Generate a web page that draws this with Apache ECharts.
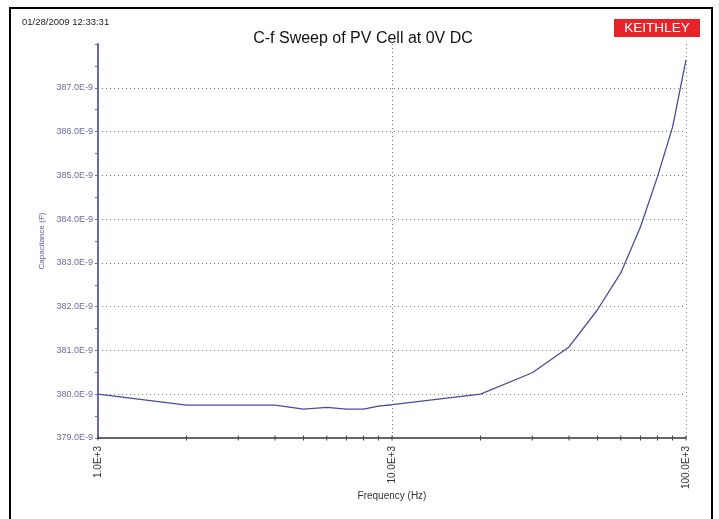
<!DOCTYPE html>
<html>
<head>
<meta charset="utf-8">
<script src="https://cdn.jsdelivr.net/npm/echarts@6/dist/echarts.min.js"></script>
<style>
html, body { margin: 0; padding: 0; background: #fff; }
#main { width: 719px; height: 519px; }
</style>
</head>
<body>
<div id="main"></div>
<script>
// C-f sweep data
var freqHz = [1000, 2000, 3000, 4000, 5000, 6000, 7000, 8000, 9000, 10000,
    20000, 30000, 40000, 50000, 60000, 70000, 80000, 90000, 100000];
var capNF = [380.00, 379.75, 379.75, 379.75, 379.66, 379.70, 379.66, 379.66, 379.73, 379.76,
    380.00, 380.49, 381.08, 381.93, 382.77, 383.82, 384.97, 386.10, 387.64];
var tickFreq = [1000, 2000, 3000, 4000, 5000, 6000, 7000, 8000, 9000, 10000,
    20000, 30000, 40000, 50000, 60000, 70000, 80000, 90000, 100000];

var FONT = '"Liberation Sans", Arial, sans-serif';

var chart = echarts.init(document.getElementById('main'));
var option = {
    animation: false,
    backgroundColor: '#fff',
    title: {
        text: 'C-f Sweep of PV Cell at 0V DC',
        left: 358,
        top: 26,
        textAlign: 'center',
        textStyle: { fontFamily: FONT, fontSize: 16, fontWeight: 'normal', color: '#111' }
    },
    graphic: [
        {
            type: 'rect', silent: true,
            shape: { x: 10, y: 8, width: 702, height: 560 },
            style: { fill: null, stroke: '#000', lineWidth: 2 }
        },
        {
            type: 'text', left: 22, top: 17,
            style: { text: '01/28/2009 12:33:31', font: '9.5px ' + FONT, fill: '#222' }
        },
        {
            type: 'rect',
            shape: { x: 614, y: 19, width: 86, height: 18 },
            style: { fill: '#e8232a' }
        },
        {
            type: 'text', x: 657, y: 28.5,
            style: { text: 'KEITHLEY', font: '13.5px ' + FONT, fill: '#fff',
                align: 'center', verticalAlign: 'middle' }
        },
        {
            // x axis title
            type: 'text', x: 392, y: 496,
            style: { text: 'Frequency (Hz)', font: '10px ' + FONT, fill: '#333',
                align: 'center', verticalAlign: 'middle' }
        }
    ],
    grid: { left: 98, right: 33, top: 44, bottom: 81 },
    xAxis: {
        type: 'log',
        logBase: 10,
        min: 1000,
        max: 100000,
        axisLine: { lineStyle: { color: '#333', width: 1.5 } },
        axisTick: { show: false },
        minorTick: { show: false },
        axisLabel: {
            rotate: 90,
            fontFamily: FONT, fontSize: 10, color: '#333', margin: 8,
            formatter: function (v) { return (v / 1000).toFixed(1) + 'E+3'; }
        },
        splitLine: { show: true, lineStyle: { color: '#777', type: [1, 3], width: 1 } }
    },
    yAxis: {
        type: 'value',
        min: 379,
        max: 388,
        interval: 1,
        name: 'Capacitance (F)',
        nameLocation: 'middle',
        nameRotate: 90,
        nameGap: 50,
        nameTextStyle: { fontFamily: FONT, fontSize: 8, color: '#5a5aa0' },
        axisLine: { show: true, lineStyle: { color: '#6a6aaa', width: 2 } },
        axisTick: { show: true, length: 3, lineStyle: { color: '#6a6aaa' } },
        minorTick: { show: true, splitNumber: 2, length: 3, lineStyle: { color: '#6a6aaa' } },
        axisLabel: {
            fontFamily: FONT, fontSize: 9, color: '#6b6b9e', margin: 5,
            formatter: function (v) { return v >= 388 ? '' : v.toFixed(1) + 'E-9'; }
        },
        splitLine: {
            show: true, showMinLine: false, showMaxLine: false,
            lineStyle: { color: '#777', type: [1, 3], width: 1 }
        }
    },
    series: [
        {
            type: 'line',
            data: freqHz.map(function (f, i) { return [f, capNF[i]]; }),
            showSymbol: false,
            lineStyle: { color: '#4b4b99', width: 1.3 },
            z: 3
        },
        {
            // tick marks on the log frequency axis (decades and 2..9 minors)
            type: 'custom',
            silent: true,
            data: tickFreq.map(function (f) { return [f, 379]; }),
            renderItem: function (params, api) {
                var p = api.coord([api.value(0), api.value(1)]);
                return {
                    type: 'line',
                    shape: { x1: p[0], y1: p[1] - 2.5, x2: p[0], y2: p[1] + 2.5 },
                    style: { stroke: '#444', lineWidth: 1 }
                };
            },
            z: 4
        }
    ]
};
chart.setOption(option);
</script>
</body>
</html>
